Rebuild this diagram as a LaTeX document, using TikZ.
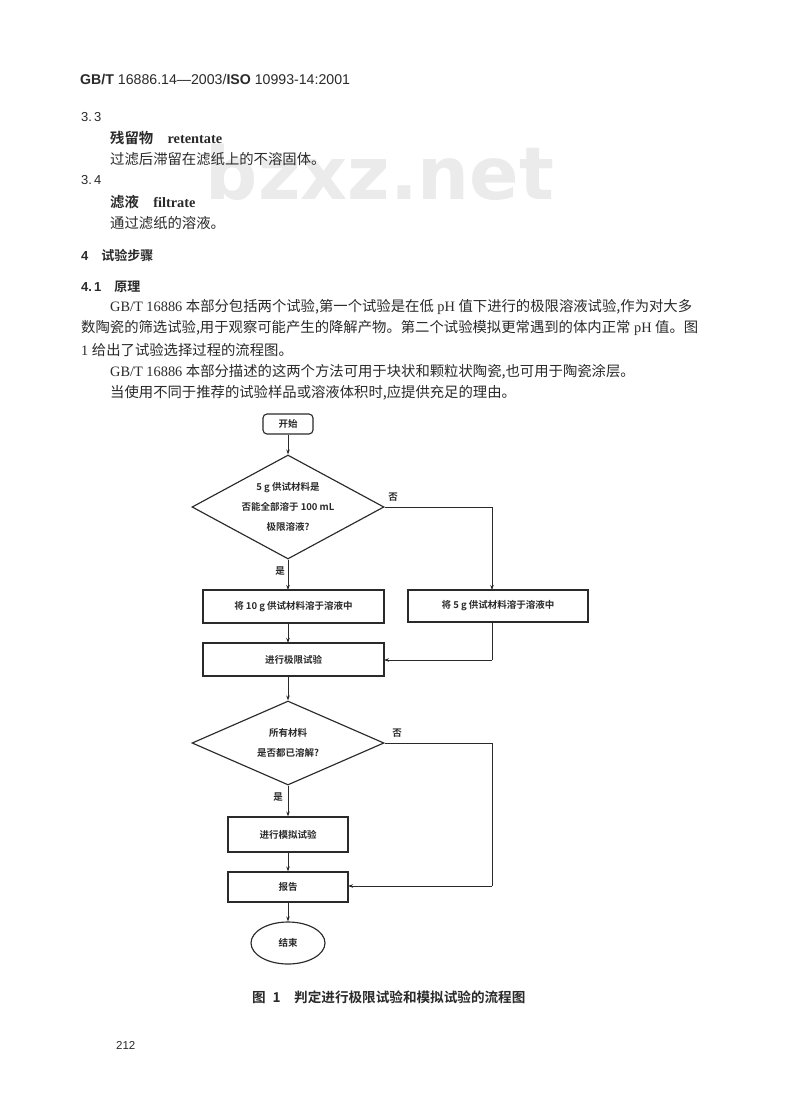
\documentclass[tikz,border=0pt]{standalone}
\usepackage{fontspec}
\usetikzlibrary{arrows.meta,shapes.geometric}
\setmainfont{Liberation Serif}
\newfontfamily\cjk{Noto Sans CJK SC}
\newfontfamily\cjkb{Noto Sans CJK SC Bold}
\newfontfamily\hdr{Liberation Sans}
\newfontfamily\wmf{DejaVu Sans}
\newcommand{\Zh}[1]{{\cjk #1}}
\newcommand{\Zb}[1]{{\cjkb #1}}
\definecolor{ink}{HTML}{2A2A2A}
\definecolor{wm}{HTML}{EBEBEB}
\tikzset{
  x=1pt,y=-1pt,
  line/.style={draw=ink,line width=0.8pt},
  conn/.style={line,-{Stealth[length=5pt,width=3.5pt]}},
  plain/.style={line},
  boxnode/.style={draw=ink,line width=1.15pt,minimum height=0pt,inner sep=0pt,font=\fontsize{9.5}{11}\selectfont,text=ink},
  dia/.style={draw=ink,line width=1.15pt,diamond,aspect=1.85,inner sep=0pt,font=\fontsize{9.5}{20}\selectfont,align=center,text=ink},
  txt/.style={anchor=west,inner sep=0pt,text=ink,font=\fontsize{14.35}{16}\selectfont},
  head/.style={txt,font=\hdr\fontsize{13}{16}\selectfont},
  lab/.style={inner sep=0pt,text=ink,font=\fontsize{9.5}{11}\selectfont},
}
\begin{document}
\begin{tikzpicture}
\useasboundingbox (0,0) rectangle (800,1102);
\fill[white] (0,0) rectangle (800,1102);
\node[anchor=base,inner sep=0pt,text=wm,font=\wmf\bfseries\fontsize{73}{73}\selectfont] (mark) at (380,200) {bzxz.net};
\node[txt,font=\hdr\fontsize{14.15}{15}\selectfont] (t0) at (80,80) {\textbf{GB/T} 16886.14—2003/\textbf{ISO} 10993-14:2001};
\node[head] (t1) at (81,117) {3.\,3};
\node[txt] (t2) at (110,138) {\Zb{残留物}\quad\textbf{retentate}};
\node[txt] (t3) at (110,159) {\Zh{过滤后滞留在滤纸上的不溶固体。}};
\node[head] (t4) at (81,180) {3.\,4};
\node[txt] (t5) at (110,202) {\Zb{滤液}\quad\textbf{filtrate}};
\node[txt] (t6) at (110,223) {\Zh{通过滤纸的溶液。}};
\node[head] (t7) at (81,255) {\textbf{4}\quad\Zb{试验步骤}};
\node[head] (t8) at (81,287) {\textbf{4.\,1}\quad\Zb{原理}};
\node[txt] (p1) at (110,307) {GB/T 16886 \Zh{本部分包括两个试验,第一个试验是在低} pH \Zh{值下进行的极限溶液试验,作为对大多}};
\node[txt] (p2) at (81,328) {\Zh{数陶瓷的筛选试验,用于观察可能产生的降解产物。第二个试验模拟更常遇到的体内正常} pH \Zh{值。图}};
\node[txt] (p3) at (81,350) {1 \Zh{给出了试验选择过程的流程图。}};
\node[txt] (p4) at (110,372) {GB/T 16886 \Zh{本部分描述的这两个方法可用于块状和颗粒状陶瓷,也可用于陶瓷涂层。}};
\node[txt] (p5) at (110,393) {\Zh{当使用不同于推荐的试验样品或溶液体积时,应提供充足的理由。}};

\node[boxnode,rounded corners=4pt,minimum width=50pt,minimum height=20pt] (start) at (288,424) {\Zb{开始}};
\node[dia,minimum width=192pt,minimum height=104pt] (d1) at (288,507) {\Zb{5 g 供试材料是}\\\Zb{否能全部溶于 100 mL}\\\Zb{极限溶液?}};
\node[boxnode,minimum width=181pt,minimum height=33pt] (b1) at (293.5,606.5) {\Zb{将 10 g 供试材料溶于溶液中}};
\node[boxnode,minimum width=180pt,minimum height=32pt] (b2) at (498,606) {\Zb{将 5 g 供试材料溶于溶液中}};
\node[boxnode,minimum width=181pt,minimum height=33pt] (b3) at (293.5,659.5) {\Zb{进行极限试验}};
\node[dia,minimum width=192pt,minimum height=84pt,aspect=2.3] (d2) at (288,743) {\Zb{所有材料}\\\Zb{是否都已溶解?}};
\node[boxnode,minimum width=120pt,minimum height=35pt] (b4) at (288,834.5) {\Zb{进行模拟试验}};
\node[boxnode,minimum width=120pt,minimum height=30pt] (b5) at (288,887) {\Zb{报告}};
\node[boxnode,ellipse,minimum width=74pt,minimum height=42pt] (stop) at (288,943) {\Zb{结束}};

\coordinate (c1) at (492,507);
\coordinate (c2) at (492,660);
\coordinate (c3) at (492,743);
\coordinate (c4) at (492,886);
\coordinate (b1t) at (288,590);
\coordinate (b1b) at (288,623);
\coordinate (b3t) at (288,643);
\coordinate (b3b) at (288,676);
\coordinate (b3r) at (384,660);
\coordinate (b5r) at (348,886);
\coordinate (b2t) at (492,590);
\coordinate (b2b) at (492,622);

\draw[conn] (start.south) -- (d1.north);
\draw[conn] (d1.south) -- (b1t);
\draw[plain] (d1.east) -- (c1);
\draw[conn] (c1) -- (b2t);
\draw[conn] (b1b) -- (b3t);
\draw[plain] (b2b) -- (c2);
\draw[conn] (c2) -- (b3r);
\draw[conn] (b3b) -- (d2.north);
\draw[conn] (d2.south) -- (b4.north);
\draw[plain] (d2.east) -- (c3);
\draw[plain] (c3) -- (c4);
\draw[conn] (c4) -- (b5r);
\draw[conn] (b4.south) -- (b5.north);
\draw[conn] (b5.south) -- (stop.north);

\node[lab] (no1) at (393,497) {\Zb{否}};
\node[lab] (yes1) at (280,571) {\Zb{是}};
\node[lab] (no2) at (397,733) {\Zb{否}};
\node[lab] (yes2) at (278,797) {\Zb{是}};

\node[anchor=west,inner sep=0pt,text=ink,font=\fontsize{13.6}{14}\selectfont] (cap) at (252,997) {\Zb{图\enspace 1\quad 判定进行极限试验和模拟试验的流程图}};
\node[anchor=west,inner sep=0pt,text=ink,font=\hdr\fontsize{11.5}{14}\selectfont] (pg) at (116,1045) {212};
\end{tikzpicture}
\end{document}
